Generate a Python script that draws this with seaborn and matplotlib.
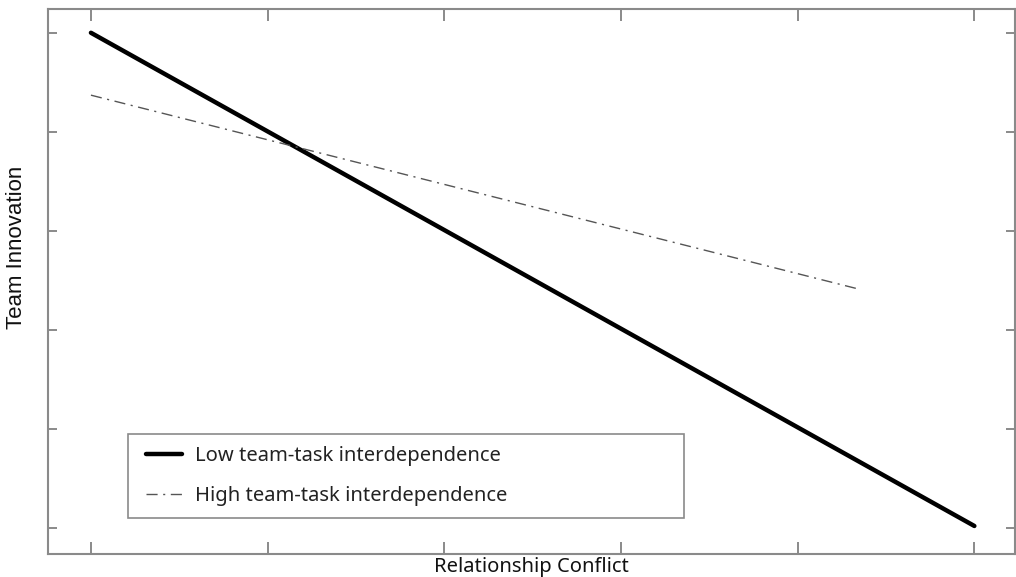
import matplotlib
matplotlib.use("Agg")
import matplotlib.pyplot as plt
from matplotlib.patches import Rectangle
import seaborn as sns
import pandas as pd

# Simple slopes: team innovation across relationship conflict
conflict = [0.0, 5.0]
low_interdependence = [5.0, 0.02]
conflict_high = [0.0, 4.35]
high_interdependence = [4.37, 2.41]

x_ticks = [0, 1, 2, 3, 4, 5]
y_ticks = [0, 1, 2, 3, 4, 5]

sns.set_theme(style="white")
plt.rcParams["font.family"] = ["Noto Sans", "DejaVu Sans"]

fig = plt.figure(figsize=(10.16, 5.77), dpi=100)
ax = fig.add_axes([48 / 1016, 23 / 577, 967 / 1016, 545 / 577])

low_df = pd.DataFrame({"Relationship Conflict": conflict, "Team Innovation": low_interdependence})
high_df = pd.DataFrame({"Relationship Conflict": conflict_high, "Team Innovation": high_interdependence})

sns.lineplot(data=low_df, x="Relationship Conflict", y="Team Innovation", ax=ax,
             color="black", linewidth=3.2, label="Low team-task interdependence")
sns.lineplot(data=high_df, x="Relationship Conflict", y="Team Innovation", ax=ax,
             color="#555555", linewidth=1.0, dashes=False,
             label="High team-task interdependence")
ax.lines[1].set_dashes([8, 4, 1.5, 4])

ax.set_xlim(-0.243, 5.23)
ax.set_ylim(-0.263, 5.24)
ax.set_xticks(x_ticks)
ax.set_yticks(y_ticks)
ax.set_xticklabels([])
ax.set_yticklabels([])
ax.tick_params(axis="both", which="both", direction="in", width=1.2,
               color="#777777", top=True, right=True, bottom=True, left=True)
ax.tick_params(axis="x", length=8.5)
ax.tick_params(axis="y", length=6.5)

for side in ["left", "right", "top", "bottom"]:
    ax.spines[side].set_visible(True)
    ax.spines[side].set_color("#8a8a8a")
    ax.spines[side].set_linewidth(1.5)

ax.set_xlabel("Relationship Conflict", fontsize=14.5, labelpad=-1, color="#111111")
ax.set_ylabel("Team Innovation", fontsize=16, color="#111111",
              family=["Liberation Sans", "DejaVu Sans"])
ax.yaxis.set_label_coords(-0.0215, 0.563)

# Legend box drawn as a plain rectangle, entries placed inside it
ax.add_patch(Rectangle((0.0827, 0.066), 0.575, 0.154, transform=ax.transAxes,
                       facecolor="white", edgecolor="#8a8a8a", linewidth=1.2,
                       zorder=4))
leg = ax.legend(loc="lower left", bbox_to_anchor=(0.0889, 0.066),
                borderaxespad=0, fontsize=14.5, frameon=False,
                handlelength=1.8, handletextpad=0.65,
                labelspacing=1.0, borderpad=0.6)
leg.set_zorder(5)
for t in leg.get_texts():
    t.set_color("#222222")

fig.savefig("out.png", dpi=100)
